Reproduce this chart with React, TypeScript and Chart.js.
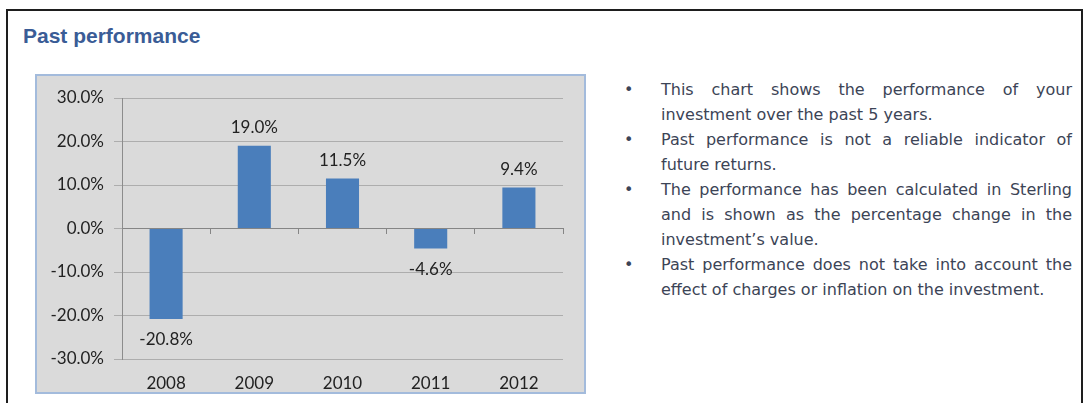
import React, { useEffect, useRef } from 'react';
import { Chart, registerables } from 'chart.js';

Chart.register(...registerables);

const categories = ['2008', '2009', '2010', '2011', '2012'];
const returns = [-20.8, 19.0, 11.5, -4.6, 9.4];
const yMin = -30;
const yMax = 30;
const yStep = 10;

const title = 'Past performance';
const bullets = [
  'This chart shows the performance of your investment over the past 5 years.',
  'Past performance is not a reliable indicator of future returns.',
  'The performance has been calculated in Sterling and is shown as the percentage change in the investment\u2019s value.',
  'Past performance does not take into account the effect of charges or inflation on the investment.',
];

const fmt = (v: number) => v.toFixed(1) + '%';

const valueLabels = {
  id: 'valueLabels',
  afterDatasetsDraw(chart: any) {
    const ctx = chart.ctx;
    const meta = chart.getDatasetMeta(0);
    const data = chart.data.datasets[0].data as number[];
    ctx.save();
    ctx.font = '17px Lato';
    ctx.fillStyle = '#222222';
    ctx.textAlign = 'center';
    ctx.textBaseline = 'middle';
    meta.data.forEach((bar: any, i: number) => {
      const v = data[i];
      const y = v >= 0 ? bar.y - 18 : bar.y + 21;
      ctx.fillText(fmt(v), bar.x, y);
    });
    ctx.restore();
  },
};

function BarChart() {
  const ref = useRef<HTMLCanvasElement | null>(null);
  useEffect(() => {
    if (!ref.current) return;
    const chart = new Chart(ref.current, {
      type: 'bar',
      data: {
        labels: categories,
        datasets: [
          {
            data: returns,
            backgroundColor: '#4a7ebb',
            borderWidth: 0,
            barPercentage: 0.75,
            categoryPercentage: 0.5,
          },
        ],
      },
      options: {
        responsive: false,
        animation: false,
        layout: { padding: { top: 22, right: 21, left: 0, bottom: 0 } },
        plugins: { legend: { display: false }, tooltip: { enabled: false } },
        scales: {
          x: {
            type: 'category',
            position: 'bottom',
            grid: { display: false, drawTicks: false },
            border: { display: false },
            ticks: {
              color: '#222222',
              font: { family: 'Lato', size: 17 },
              padding: 14,
              maxRotation: 0,
              autoSkip: false,
            },
            afterFit: (s: any) => {
              s.height = 33;
            },
          },
          x2: {
            type: 'category',
            axis: 'x',
            labels: categories,
            position: { y: 0 },
            offset: true,
            grid: {
              offset: true,
              drawOnChartArea: false,
              drawTicks: true,
              tickLength: 5,
              color: '#858585',
            },
            border: { display: true, color: '#858585', width: 1 },
            ticks: { display: false },
            z: 1,
          },
          y: {
            min: yMin,
            max: yMax,
            ticks: {
              stepSize: yStep,
              callback: (v: any) => fmt(Number(v)),
              color: '#222222',
              font: { family: 'Lato', size: 17 },
              padding: 10,
            },
            grid: { color: '#adadad', tickLength: 8 },
            border: { color: '#8c8c8c', width: 1 },
            afterFit: (s: any) => {
              s.width = 85;
            },
          },
        },
      } as any,
      plugins: [valueLabels],
    });
    return () => chart.destroy();
  }, []);
  return <canvas ref={ref} width={547} height={316} style={{ display: 'block' }} />;
}

export default function App() {
  return (
    <div
      style={{
        position: 'fixed',
        left: 0,
        top: 0,
        width: 1083,
        height: 403,
        background: '#ffffff',
        overflow: 'hidden',
      }}
    >
      <div
        style={{
          position: 'absolute',
          left: 6,
          top: 9,
          width: 1073,
          height: 500,
          border: '2px solid #1e1e1e',
        }}
      />
      <div
        style={{
          position: 'absolute',
          left: 23,
          top: 24,
          lineHeight: '24px',
          fontFamily: '"Liberation Sans", Arial, sans-serif',
          fontWeight: 'bold',
          fontSize: 21,
          color: '#3a5c96',
          whiteSpace: 'nowrap',
        }}
      >
        {title}
      </div>
      <div
        style={{
          position: 'absolute',
          left: 35,
          top: 74,
          width: 547,
          height: 316,
          border: '2px solid #a3bbdc',
          background: '#dadada',
        }}
      >
        <BarChart />
      </div>
      <ul
        style={{
          position: 'absolute',
          left: 620,
          top: 77,
          width: 452,
          margin: 0,
          padding: 0,
          listStyle: 'none',
          fontFamily: '"DejaVu Sans", Verdana, sans-serif',
          fontSize: 16,
          lineHeight: '25px',
          color: '#3c4456',
        }}
      >
        {bullets.map((b, i) => (
          <li key={i} style={{ position: 'relative', paddingLeft: 41, textAlign: 'justify' }}>
            <span style={{ position: 'absolute', left: 4, top: 0 }}>{'\u2022'}</span>
            {b}
          </li>
        ))}
      </ul>
    </div>
  );
}
